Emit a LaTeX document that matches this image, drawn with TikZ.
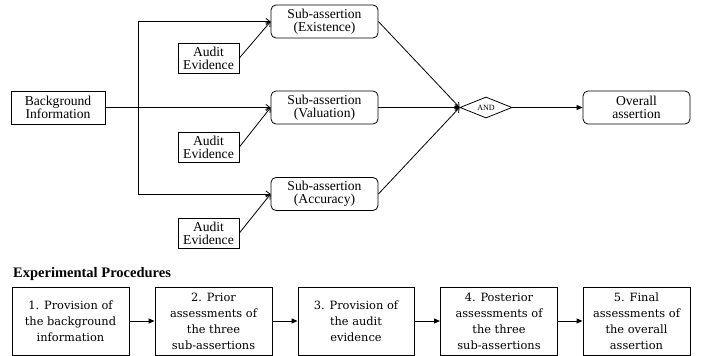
\documentclass[tikz,border=0pt]{standalone}
\usepackage{fontspec}
\setmainfont{Liberation Serif}
\newfontfamily\stepfont{DejaVu Serif}
\usetikzlibrary{shapes.geometric,arrows.meta}
\tikzset{
  box/.style={draw, line width=0.8pt, align=center, inner sep=0pt,
    font={\fontsize{13.6}{13.3}\selectfont}},
  subbox/.style={box, rounded corners=5pt, minimum width=107pt, minimum height=33pt},
  evbox/.style={box, minimum width=61pt, minimum height=30pt},
  stepbox/.style={draw, line width=1pt, align=center, inner sep=0pt,
    minimum height=68pt, font={\stepfont\fontsize{11.4}{16}\selectfont}},
  thin arrow/.style={line width=0.8pt, -{Straight Barb[length=4pt,width=6pt]}},
  fat arrow/.style={line width=1pt, -{Triangle[length=6pt,width=5pt]}}
}

\begin{document}
\begin{tikzpicture}[x=1pt, y=-1pt]
      \useasboundingbox (0,0) rectangle (710,356);
      % Top diagram
      \node[box, minimum width=94pt, minimum height=33pt] (bg) at (58,107.5) {Background\\Information};
      \node[subbox] (sa1) at (324.5,21.5) {Sub-assertion\\(Existence)};
      \node[subbox] (sa2) at (324.5,107.5) {Sub-assertion\\(Valuation)};
      \node[subbox] (sa3) at (324.5,194) {Sub-assertion\\(Accuracy)};
      \node[evbox] (ae1) at (208.5,58) {Audit\\Evidence};
      \node[evbox] (ae2) at (208.5,147) {Audit\\Evidence};
      \node[evbox] (ae3) at (208.5,233) {Audit\\Evidence};
      \node[diamond, draw, line width=0.8pt, aspect=2.5, inner sep=0pt,
        minimum width=52pt, minimum height=21pt,
        font={\fontsize{8}{8}\selectfont}] (and) at (486,107.5) {AND};
      \node[subbox] (ov) at (636.5,107.5) {Overall\\assertion};
      \coordinate (split) at (138,107.5);
      % Connectors
      \draw[line width=0.8pt] (bg.east) -- (split);
      \draw[thin arrow] (split) -- (sa2.west);
      \draw[thin arrow] (split) |- (sa1.west);
      \draw[thin arrow] (split) |- (sa3.west);
      \foreach \i in {1,2,3}{
          \draw[thin arrow] (ae\i.east) -- (sa\i.west);
          \draw[thin arrow] (sa\i.east) -- (and.west);
        }
      \draw[fat arrow] (and.east) -- (ov.west);
      % Procedures
      \node[anchor=base west, inner sep=0pt, font={\fontsize{14.5}{15}\selectfont\bfseries}] (title) at (13,277) {Experimental Procedures};
      \foreach \i/\x/\w/\txt in {1/70.5/117/{1. Provision of\\the background\\information},
          2/213.5/117/{2. Prior\\assessments of\\the three\\sub-assertions},
          3/356/116/{3. Provision of\\the audit\\evidence},
          4/499/117/{4. Posterior\\assessments of\\the three\\sub-assertions},
          5/636.5/107/{5. Final\\assessments of\\the overall\\assertion}}{
          \node[stepbox, minimum width=\w pt] (p\i) at (\x,321) {\txt};
        }
      \foreach \i [evaluate=\i as \j using int(\i+1)] in {1,...,4}{
          \draw[fat arrow] (p\i.east) -- (p\j.west);
        }
    \end{tikzpicture}
\end{document}
